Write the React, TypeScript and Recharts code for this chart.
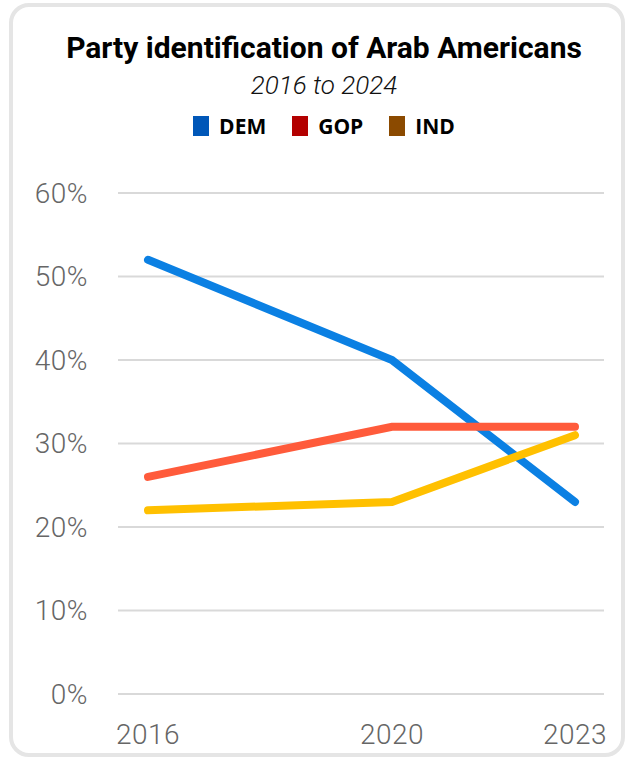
import { LineChart, Line, XAxis, YAxis, CartesianGrid } from "recharts";

const YEARS = [2016, 2020, 2023];
const DEM = [52, 40, 23];
const GOP = [26, 32, 32];
const IND = [22, 23, 31];
const Y_TICKS = [0, 10, 20, 30, 40, 50, 60];

const SERIES = [
  { key: "dem", label: "DEM", line: "#0b80e3", swatch: "#0057b8" },
  { key: "gop", label: "GOP", line: "#ff5b3b", swatch: "#b30000" },
  { key: "ind", label: "IND", line: "#ffc000", swatch: "#8b4a00" },
];

const data = YEARS.map((year, i) => ({
  year,
  dem: DEM[i],
  gop: GOP[i],
  ind: IND[i],
}));

const TICK_STYLE = {
  fontSize: 28,
  fill: "#666",
  fontFamily: "Roboto",
  fontWeight: 300,
  letterSpacing: 0.5,
};

export default function App() {
  return (
    <div
      style={{
        position: "fixed",
        top: 0,
        left: 0,
        width: 628,
        height: 757,
        background: "#fff",
        overflow: "hidden",
      }}
    >
      {/* card */}
      <div
        style={{
          position: "absolute",
          left: 9,
          top: 3,
          width: 608,
          height: 746,
          border: "4px solid #e5e5e5",
          borderRadius: 20,
        }}
      />

      {/* header */}
      <div
        style={{
          position: "absolute",
          top: 27,
          left: 0,
          width: 648,
          textAlign: "center",
          fontFamily: "Roboto",
        }}
      >
        <div style={{ fontSize: 30, fontWeight: 700, color: "#000", lineHeight: "42px" }}>
          Party identification of Arab Americans
        </div>
        <div
          style={{
            fontSize: 26,
            fontStyle: "italic",
            fontWeight: 300,
            color: "#111",
            lineHeight: "32px",
          }}
        >
          2016 to 2024
        </div>
        <div
          style={{
            display: "flex",
            justifyContent: "center",
            alignItems: "center",
            gap: 26,
            marginTop: 11,
            fontFamily: "'Open Sans'",
            fontSize: 21,
            fontWeight: 700,
            color: "#000",
          }}
        >
          {SERIES.map((s) => (
            <div key={s.key} style={{ display: "flex", alignItems: "center", gap: 10 }}>
              <span style={{ display: "inline-block", width: 16, height: 20, background: s.swatch }} />
              <span>{s.label}</span>
            </div>
          ))}
        </div>
      </div>

      <div style={{ position: "absolute", left: 0, top: 0 }}>
        <LineChart
          width={628}
          height={757}
          data={data}
          margin={{ top: 193, right: 24, left: 8, bottom: 0 }}
        >
          <CartesianGrid vertical={false} stroke="#d9d9d9" strokeWidth={2} />
          <XAxis
            dataKey="year"
            type="number"
            domain={[2016, 2023]}
            ticks={YEARS}
            padding={{ left: 30, right: 29 }}
            axisLine={false}
            tickLine={false}
            tickSize={0}
            tickMargin={30}
            height={63}
            tick={TICK_STYLE}
          />
          <YAxis
            domain={[0, 60]}
            ticks={Y_TICKS}
            tickFormatter={(v) => `${v}%`}
            axisLine={false}
            tickLine={false}
            tickSize={0}
            tickMargin={30}
            width={110}
            tick={TICK_STYLE}
          />
          {SERIES.map((s) => (
            <Line
              key={s.key}
              dataKey={s.key}
              type="linear"
              stroke={s.line}
              strokeWidth={8}
              strokeLinecap="round"
              dot={false}
              isAnimationActive={false}
            />
          ))}
        </LineChart>
      </div>
    </div>
  );
}
